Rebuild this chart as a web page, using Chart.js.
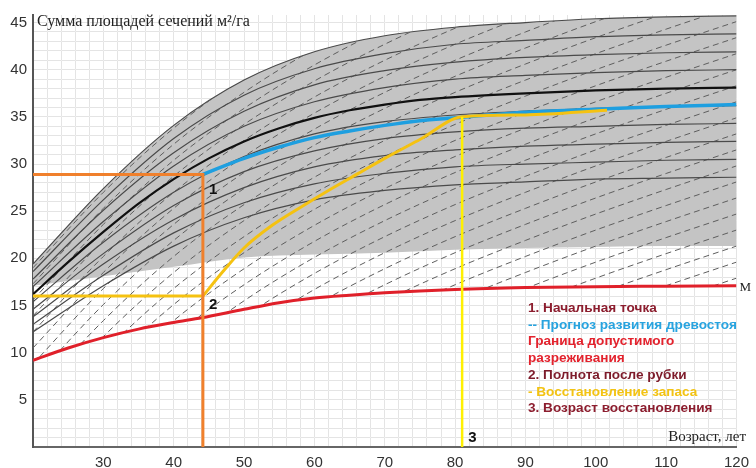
<!DOCTYPE html>
<html lang="ru">
<head>
<meta charset="utf-8">
<title>Сумма площадей сечений</title>
<script src="https://cdn.jsdelivr.net/npm/chart.js@4.4.1/dist/chart.umd.min.js"></script>
<style>
  html, body { margin: 0; padding: 0; background: #fff; }
  #wrap { width: 756px; height: 468px; }
</style>
</head>
<body>
<div id="wrap"><canvas id="chart" width="756" height="468"></canvas></div>
<script>
// ===== Data =====
const ages = [20, 30, 40, 50, 60, 70, 80, 90, 100, 110, 120];

// black growth curve (full density)
const mainAges = [20, 25, 30, 35, 40, 45, 50, 55, 60, 65, 70, 75, 80, 90, 100, 110, 120];
const mainCurve = [16.2, 19.6, 22.8, 25.8, 28.4, 30.6, 32.4, 33.8, 34.9, 35.7, 36.3, 36.8, 37.1, 37.5, 37.8, 38.0, 38.1];

// top of the grey band and its lower edge
const upperLimit = [19.4, 27.4, 34.1, 38.9, 41.9, 43.6, 44.5, 45.0, 45.4, 45.6, 45.7];
const shadeLower = [17.1, 18.1, 19.1, 20.1, 20.4, 20.6, 20.9, 21.1, 21.2, 21.3, 21.3];

// thin solid curves
const densityLines = [
  [18.6, 26.2, 32.7, 37.3, 40.1, 41.7, 42.7, 43.1, 43.5, 43.7, 43.8],
  [17.8, 25.1, 31.2, 35.6, 38.4, 39.9, 40.8, 41.3, 41.6, 41.8, 41.9],
  [17.0, 23.9, 29.8, 34.0, 36.6, 38.1, 39.0, 39.4, 39.7, 39.9, 40.0],
  [15.4, 21.7, 27.0, 30.8, 33.2, 34.5, 35.2, 35.6, 35.9, 36.1, 36.2],
  [14.6, 20.5, 25.6, 29.2, 31.4, 32.7, 33.4, 33.8, 34.0, 34.2, 34.3],
  [13.8, 19.4, 24.1, 27.5, 29.7, 30.9, 31.5, 31.9, 32.1, 32.3, 32.4],
  [13.0, 18.2, 22.7, 25.9, 27.9, 29.0, 29.7, 30.0, 30.2, 30.4, 30.5],
  [12.2, 17.1, 21.3, 24.3, 26.2, 27.2, 27.8, 28.1, 28.4, 28.5, 28.6]
];

// dashed guide curves: common shape + where each one sits
const dashShape = [0, 8.0, 14.8, 20.3, 24.9, 28.8, 32.2, 35.2, 38.0, 40.6, 43.1];
const dashOffsets = [19.0, 17.3, 15.6, 13.9, 12.2, 10.5, 8.8, 7.1, 5.4, 3.7, 2.0, 0.3, -1.4, -3.1,
  -4.8, -6.5, -8.2, -9.9, -11.6, -13.3, -15.0, -16.7, -18.4, -20.1, -21.8, -23.5, -25.2];

// red: permissible thinning limit
const limitAges = [20, 25, 30, 35, 40, 44, 50, 55, 60, 65, 70, 80, 90, 100, 110, 120];
const limitCurve = [9.2, 10.5, 11.6, 12.5, 13.2, 13.7, 14.6, 15.3, 15.8, 16.1, 16.35, 16.7, 16.9, 17.0, 17.05, 17.1];

// blue: stand development forecast
const forecastAges = [44.15, 50, 55, 60, 65, 70, 75, 80, 90, 100, 110, 120];
const forecast = [28.9, 30.6, 31.8, 32.8, 33.5, 34.1, 34.6, 34.9, 35.5, 35.8, 36.1, 36.3];

// yellow: stock recovery after cutting
const recoveryAges = [44.15, 47, 50, 54, 58, 62, 66, 70, 75, 81, 90, 101.6];
const recovery = [16.0, 18.6, 21.1, 23.5, 25.4, 27.2, 28.9, 30.6, 32.6, 35.0, 35.2, 35.7];

// key points
const startAge = 44.15, startBA = 28.9;   // 1
const cutBA = 16.0;                       // 2
const recoveredAge = 81, recoveredBA = 35.0; // 3

const yTitle = 'Сумма площадей сечений м²/га';
const xTitle = 'Возраст, лет';
const notes = ['1. Начальная точка', '-- Прогноз развития древостоя', 'Граница допустимого',
  'разреживания', '2. Полнота после рубки', '- Восстановление запаса', '3. Возраст восстановления'];
const noteColors = ['#8c1d2e', '#27a3df', '#e3222d', '#e3222d', '#7d1b2a', '#f3c313', '#8c1d2e'];

// ===== Datasets =====
const pts = (xs, ys) => xs.map((x, i) => ({ x, y: ys[i] }));
const curve = (extra) => Object.assign({
  pointRadius: 0, fill: false, cubicInterpolationMode: 'monotone'
}, extra);

const datasets = [];
datasets.push(curve({ key: 'shadeLower', data: pts(ages, shadeLower), borderWidth: 0, borderColor: 'rgba(0,0,0,0)', order: 101 }));
datasets.push(curve({ key: 'upper', data: pts(ages, upperLimit), borderColor: '#4a4a4a', borderWidth: 1.2,
  fill: '-1', backgroundColor: '#c4c4c4', order: 100 }));

dashOffsets.forEach(c => {
  datasets.push(curve({ data: pts(ages, dashShape.map(d => d + c)), borderColor: '#5e5e5e', borderWidth: 1,
    borderDash: [6, 4], bandClip: true, order: 90 }));
});

densityLines.forEach(line => {
  datasets.push(curve({ data: pts(ages, line), borderColor: '#4a4a4a', borderWidth: 1.2, order: 80 }));
});

datasets.push(curve({ data: pts(mainAges, mainCurve), borderColor: '#111', borderWidth: 2.2, order: 50 }));
datasets.push(curve({ key: 'limit', data: pts(limitAges, limitCurve), borderColor: '#e0202a', borderWidth: 3, order: 40 }));
datasets.push(curve({ data: pts(forecastAges, forecast), borderColor: '#1e9fe0', borderWidth: 3.5, order: 30 }));
datasets.push(curve({ data: pts(recoveryAges, recovery), borderColor: '#f5c211', borderWidth: 3, order: 25 }));
datasets.push({ data: [{ x: 20, y: cutBA }, { x: startAge, y: cutBA }], borderColor: '#f5c211', borderWidth: 3,
  pointRadius: 0, tension: 0, order: 24 });
datasets.push({ data: [{ x: recoveredAge, y: recoveredBA }, { x: recoveredAge, y: 0 }], borderColor: '#fff000', borderWidth: 2.5,
  pointRadius: 0, tension: 0, order: 20 });
datasets.push({ data: [{ x: 20, y: startBA }, { x: startAge, y: startBA }, { x: startAge, y: 0 }], borderColor: '#f0802c',
  borderWidth: 3, pointRadius: 0, tension: 0, order: 10 });

// ===== Plugins =====
// clip dashed guides to the zone between the red limit and the top curve
const bandClip = {
  id: 'bandClip',
  beforeDatasetsDraw(chart) {
    ['upper', 'limit'].forEach(k => {
      const meta = chart.getDatasetMeta(chart.data.datasets.findIndex(d => d.key === k));
      meta.dataset.updateControlPoints(chart.chartArea, 'x');
    });
  },
  beforeDatasetDraw(chart, args) {
    if (!chart.data.datasets[args.index].bandClip) return;
    const top = chart.getDatasetMeta(chart.data.datasets.findIndex(d => d.key === 'upper')).data;
    const bot = chart.getDatasetMeta(chart.data.datasets.findIndex(d => d.key === 'limit')).data;
    const ctx = chart.ctx;
    ctx.save();
    ctx.beginPath();
    ctx.moveTo(top[0].x, top[0].y);
    for (let i = 1; i < top.length; i++) {
      const p = top[i - 1], c = top[i];
      ctx.bezierCurveTo(p.cp2x, p.cp2y, c.cp1x, c.cp1y, c.x, c.y);
    }
    const last = bot[bot.length - 1];
    ctx.lineTo(last.x, last.y);
    for (let i = bot.length - 1; i > 0; i--) {
      const c = bot[i], p = bot[i - 1];
      ctx.bezierCurveTo(c.cp1x, c.cp1y, p.cp2x, p.cp2y, p.x, p.y);
    }
    ctx.closePath();
    ctx.clip();
  },
  afterDatasetDraw(chart, args) {
    if (chart.data.datasets[args.index].bandClip) chart.ctx.restore();
  }
};

const texts = {
  id: 'texts',
  afterDraw(chart) {
    const { ctx, scales: { x, y } } = chart;
    ctx.save();
    ctx.textBaseline = 'alphabetic';
    ctx.fillStyle = '#222';
    ctx.font = '16px "Liberation Serif", "Times New Roman", serif';
    ctx.textAlign = 'left';
    ctx.fillText(yTitle, 37, 26);
    ctx.font = '15px "Liberation Serif", "Times New Roman", serif';
    ctx.textAlign = 'right';
    ctx.fillText(xTitle, 746, 441);
    ctx.textAlign = 'left';
    ctx.font = '13px "Liberation Serif", serif';
    ctx.fillText('М', x.getPixelForValue(120) + 3, y.getPixelForValue(limitCurve[limitCurve.length - 1]) + 5);

    // point numbers
    ctx.fillStyle = '#111';
    ctx.font = 'bold 15px "Liberation Sans", Arial, sans-serif';
    ctx.fillText('1', x.getPixelForValue(startAge) + 6, y.getPixelForValue(startBA) + 20);
    ctx.fillText('2', x.getPixelForValue(startAge) + 6, y.getPixelForValue(cutBA) + 13);
    ctx.fillText('3', x.getPixelForValue(recoveredAge) + 6, y.getPixelForValue(0) - 5);

    // notes block
    ctx.font = 'bold 13.6px "Liberation Sans", Arial, sans-serif';
    notes.forEach((t, i) => {
      ctx.fillStyle = noteColors[i];
      ctx.fillText(t, 528, 312 + i * 16.7);
    });
    ctx.restore();
  }
};

// ===== Chart =====
const tickFont = { family: '"Liberation Sans", Arial, sans-serif', size: 15 };

new Chart(document.getElementById('chart'), {
  type: 'line',
  data: { datasets },
  options: {
    responsive: false,
    maintainAspectRatio: false,
    animation: false,
    events: [],
    layout: { padding: { top: 12, right: 12, left: 0, bottom: 0 } },
    plugins: { legend: { display: false }, tooltip: { enabled: false } },
    scales: {
      x: {
        type: 'linear', min: 20, max: 120,
        grid: { color: '#d8d8d8', drawTicks: false },
        border: { color: '#666', width: 2 },
        ticks: {
          stepSize: 2, autoSkip: false, maxRotation: 0, padding: 7, color: '#333', font: tickFont,
          callback: v => (v % 10 === 0 && v !== 20) ? v : ''
        },
        afterFit: s => { s.height = 21; }
      },
      y: {
        type: 'linear', min: 0, max: 45.8,
        grid: { color: '#d8d8d8', drawTicks: false },
        border: { color: '#555', width: 2 },
        ticks: {
          stepSize: 1, autoSkip: false, includeBounds: false, padding: 6, color: '#333', font: tickFont,
          callback: v => (Number.isInteger(v) && v % 5 === 0 && v !== 0) ? v : ''
        },
        afterFit: s => { s.width = 33; }
      },
      // light grid laid over the grey band
      xg: {
        type: 'linear', axis: 'x', position: 'bottom', min: 20, max: 120, z: 1,
        grid: { color: 'rgba(255,255,255,0.3)', drawTicks: false },
        border: { display: false },
        ticks: { display: false, stepSize: 2 },
        afterFit: s => { s.height = 0; }
      },
      yg: {
        type: 'linear', axis: 'y', position: 'left', min: 0, max: 45.8, z: 1,
        grid: { color: 'rgba(255,255,255,0.3)', drawTicks: false },
        border: { display: false },
        ticks: { display: false, stepSize: 1, includeBounds: false },
        afterFit: s => { s.width = 0; }
      }
    }
  },
  plugins: [bandClip, texts]
});
</script>
</body>
</html>
